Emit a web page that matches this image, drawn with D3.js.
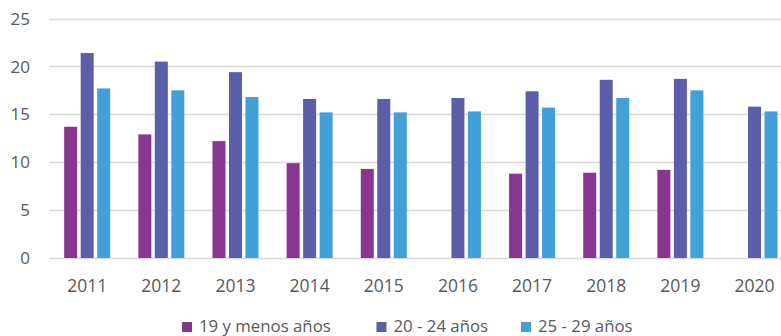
<!DOCTYPE html>
<html>
<head>
<meta charset="utf-8">
<script src="https://cdn.jsdelivr.net/npm/d3@7/dist/d3.min.js"></script>
<style>
  html, body { margin: 0; padding: 0; background: #ffffff; }
  svg { display: block; }
  text { font-family: "Open Sans", "Noto Sans", sans-serif; fill: #595959; }
</style>
</head>
<body>
<svg id="chart" width="781" height="336"></svg>
<script>
// Years on the horizontal axis
const years = ["2011", "2012", "2013", "2014", "2015", "2016", "2017", "2018", "2019", "2020"];
// Age groups (series) and their colours
const seriesNames = ["19 y menos años", "20 - 24 años", "25 - 29 años"];
const seriesColors = ["#88368F", "#5B5EA8", "#42A0D8"];
// Values per series, one per year (null = no data)
const age19 = [13.7, 12.9, 12.2, 9.9, 9.3, null, 8.8, 8.9, 9.2, null];
const age20_24 = [21.4, 20.5, 19.4, 16.6, 16.6, 16.7, 17.4, 18.6, 18.7, 15.8];
const age25_29 = [17.7, 17.5, 16.8, 15.2, 15.2, 15.3, 15.7, 16.7, 17.5, 15.3];
// Y-axis ticks
const yTicks = [0, 5, 10, 15, 20, 25];

const seriesValues = [age19, age20_24, age25_29];

const svg = d3.select("#chart");

const plotLeft = 49, plotRight = 781;
const y = d3.scaleLinear().domain([0, 25]).range([258, 18.5]);

const x0 = d3.scaleBand().domain(years).range([50.1, 791.6]).padding(0);
const groupWidth = 49.5;
const x1 = d3.scaleBand().domain(seriesNames).range([0, groupWidth])
  .paddingInner(0.212).paddingOuter(0.106);

// Gridlines
svg.append("g").selectAll("line")
  .data(yTicks)
  .join("line")
  .attr("x1", plotLeft).attr("x2", plotRight)
  .attr("y1", d => Math.round(y(d)) + 0.5)
  .attr("y2", d => Math.round(y(d)) + 0.5)
  .attr("stroke", "#d9d9d9")
  .attr("stroke-width", 1.3);

// Y tick labels
svg.append("g").selectAll("text")
  .data(yTicks)
  .join("text")
  .attr("x", 30)
  .attr("y", d => y(d))
  .attr("dy", "0.36em")
  .attr("text-anchor", "end")
  .attr("font-size", 17)
  .text(d => d);

// Bars
const rows = [];
years.forEach((yr, i) => {
  seriesNames.forEach((s, j) => {
    const v = seriesValues[j][i];
    if (v != null) rows.push({ year: yr, series: s, value: v, color: seriesColors[j] });
  });
});

svg.append("g").selectAll("rect")
  .data(rows)
  .join("rect")
  .attr("x", d => x0(d.year) + (x0.bandwidth() - groupWidth) / 2 + x1(d.series))
  .attr("width", x1.bandwidth())
  .attr("y", d => y(d.value))
  .attr("height", d => y(0) - y(d.value))
  .attr("fill", d => d.color);

// X tick labels
svg.append("g").selectAll("text")
  .data(years)
  .join("text")
  .attr("x", d => x0(d) + x0.bandwidth() / 2)
  .attr("y", 292)
  .attr("text-anchor", "middle")
  .attr("font-size", 17.5)
  .text(d => d);

// Legend
const legendX = [182, 376.5, 521];
const legend = svg.append("g").selectAll("g")
  .data(seriesNames)
  .join("g")
  .attr("transform", (d, i) => `translate(${legendX[i]},322)`);
legend.append("rect")
  .attr("width", 10).attr("height", 10)
  .attr("fill", (d, i) => seriesColors[i]);
legend.append("text")
  .attr("x", 17)
  .attr("y", 10)
  .attr("font-size", 16.8)
  .text(d => d);
</script>
</body>
</html>
